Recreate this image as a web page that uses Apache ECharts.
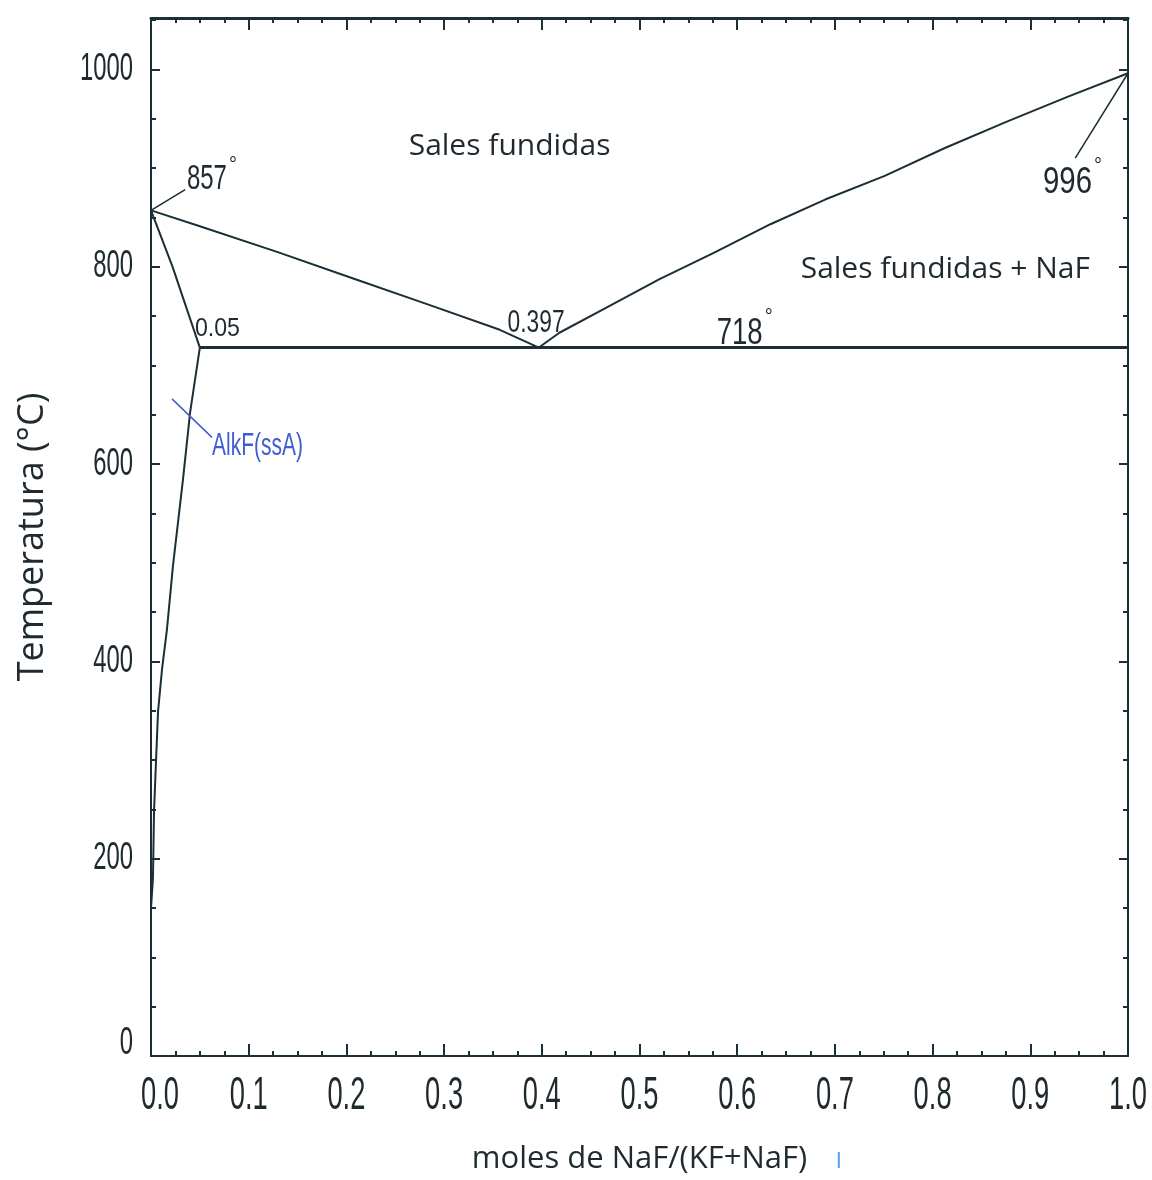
<!DOCTYPE html>
<html>
<head>
<meta charset="utf-8">
<script src="https://cdn.jsdelivr.net/npm/echarts@6/dist/echarts.min.js"></script>
<style>
html,body{margin:0;padding:0;background:#fff;}
#chart{width:1152px;height:1180px;}
</style>
</head>
<body>
<div id="chart"></div>
<script>
// ---- data ----
const liquidusLeft = [[0,857],[0.050,841],[0.129,815],[0.207,788],[0.2825,762],[0.357,736],[0.397,718]];
const liquidusRight = [[0.397,718],[0.418,733],[0.469,760],[0.520,787],[0.576,814],[0.634,843],[0.690,868],[0.751,892],[0.812,920],[0.876,947],[0.938,972],[1.0,996]];
const eutectic = [[0.05,718],[1.0,718]];
const solidus = [[0,857],[0.022,800],[0.05,718]];
const solvus = [[0.05,718],[0.040,652],[0.0328,585],[0.0225,497],[0.0164,433],[0.0113,392],[0.0072,349],[0.0051,298],[0.0031,248],[0.002,180],[0,150]];
const leader857 = [[0,857],[0.035,878]];
const leader996 = [[1.0,996],[0.946,910]];
const leaderAlkF = [[0.0215,666],[0.0624,627]];
const xTickValues = [0,0.1,0.2,0.3,0.4,0.5,0.6,0.7,0.8,0.9,1.0];
const xTickLabels = ['0.0','0.1','0.2','0.3','0.4','0.5','0.6','0.7','0.8','0.9','1.0'];
const yTickValues = [0,200,400,600,800,1000];
const yTickLabels = ['0','200','400','600','800','1000'];
// annotation texts and their anchor points in data units
const annotations = [
  {text:'Sales fundidas', x:0.367, y:921.5, kind:'region', align:'center'},
  {text:'Sales fundidas + NaF', x:0.813, y:797, kind:'region', align:'center'},
  {text:'857', x:0.0368, y:888, kind:'num', align:'left', deg:true, w:40, h:25},
  {text:'996', x:0.913, y:885, kind:'num', align:'left', deg:true, w:49, h:27},
  {text:'718', x:0.579, y:732, kind:'num', align:'left', deg:true, w:46, h:27},
  {text:'0.397', x:0.365, y:742.5, kind:'num', align:'left', w:57, h:22},
  {text:'0.05', x:0.045, y:737.4, kind:'num', align:'left', w:45, h:19},
  {text:'AlkF(ssA)', x:0.0624, y:618, kind:'blue', align:'left', w:91, h:23}
];

const INK = '#1c2e36';
const TXT = '#1f2a30';
const BLUE = '#3f5fd0';
const NUMFONT = "'Liberation Sans', Arial, sans-serif";
const SANS = "'Open Sans', 'Noto Sans', sans-serif";

const chart = echarts.init(document.getElementById('chart'));

function lineSeries(name, data, color, width) {
  return {
    name: name, type: 'line', data: data, showSymbol: false, symbol: 'none',
    lineStyle: {color: color || INK, width: width || 2}, silent: true, z: 3,
    xAxisIndex: 0, yAxisIndex: 0, animation: false
  };
}

const xBase = {
  type: 'value', min: 0, max: 1.0, interval: 0.1,
  splitLine: {show: false},
  axisLabel: {show: false},
  axisLine: {show: true, onZero: false, lineStyle: {color: INK, width: 2}},
  axisTick: {show: true, inside: true, length: 12, lineStyle: {color: INK, width: 2}, customValues: xTickValues},
  minorTick: {show: true, splitNumber: 4, length: 5, lineStyle: {color: INK, width: 2}},
  minorSplitLine: {show: false}
};
const yBase = {
  type: 'value', min: 0, max: 1052, interval: 200,
  splitLine: {show: false},
  axisLabel: {show: false},
  axisLine: {show: true, onZero: false, lineStyle: {color: INK, width: 2}},
  axisTick: {show: true, inside: true, length: 9, lineStyle: {color: INK, width: 2}, customValues: yTickValues},
  minorTick: {show: true, splitNumber: 4, length: 5, lineStyle: {color: INK, width: 2}},
  minorSplitLine: {show: false}
};

const option = {
  animation: false,
  backgroundColor: '#ffffff',
  grid: {left: 151, right: 24, top: 18, bottom: 122, containLabel: false},
  xAxis: [
    Object.assign({}, xBase, {
      position: 'bottom',
      name: 'moles de NaF/(KF+NaF)', nameLocation: 'middle', nameGap: 88,
      nameTextStyle: {fontFamily: SANS, fontSize: 31, color: TXT}
    }),
    Object.assign({}, xBase, {
      position: 'top',
      name: '',
      axisLine: {show: true, onZero: false, lineStyle: {color: INK, width: 3}}
    })
  ],
  yAxis: [
    Object.assign({}, yBase, {
      position: 'left',
      name: 'Temperatura (°C)', nameLocation: 'middle', nameGap: 100, nameRotate: 90,
      nameTextStyle: {fontFamily: SANS, fontSize: 36, color: TXT}
    }),
    Object.assign({}, yBase, {position: 'right', name: ''})
  ],
  series: [
    lineSeries('liquidusLeft', liquidusLeft),
    lineSeries('liquidusRight', liquidusRight),
    lineSeries('eutectic', eutectic, INK, 3),
    lineSeries('solidus', solidus),
    lineSeries('solvus', solvus),
    lineSeries('leader857', leader857, INK, 1.5),
    lineSeries('leader996', leader996, INK, 1.5),
    lineSeries('leaderAlkF', leaderAlkF, BLUE, 1.5)
  ]
};
chart.setOption(option);

// ---- text measuring for condensed (tall, narrow) labels ----
const mctx = document.createElement('canvas').getContext('2d');
function measure(text, size, family) {
  mctx.font = size + 'px ' + family;
  return mctx.measureText(text).width;
}
const CAP = 0.716; // cap height ratio of Liberation Sans
function condensedText(text, px, py, align, w, h, color, family) {
  const size = h / CAP;
  const sx = w / measure(text, size, family);
  return {
    type: 'text', x: px, y: py, scaleX: sx, scaleY: 1, silent: true, z: 10,
    style: {text: text, fontFamily: family, fontSize: size, fill: color,
      textAlign: align, textVerticalAlign: 'middle', align: align, verticalAlign: 'middle'}
  };
}
const toPx = function (x, y) { return chart.convertToPixel({xAxisIndex: 0, yAxisIndex: 0}, [x, y]); };

const elements = [];
// x tick labels
const xSize = 33 / CAP;
const xScale = 38 / measure('0.0', xSize, NUMFONT);
xTickValues.forEach(function (v, i) {
  const p = toPx(v, 0);
  const shift = (i === 0) ? 9 : 0;
  elements.push({
    type: 'text', x: p[0] + shift, y: p[1] + 40, scaleX: xScale, silent: true, z: 10,
    style: {text: xTickLabels[i], fontFamily: NUMFONT, fontSize: xSize, fill: TXT,
      textAlign: 'center', textVerticalAlign: 'middle', align: 'center', verticalAlign: 'middle'}
  });
});
// y tick labels
const ySize = 28 / CAP;
const yScale = 53 / measure('1000', ySize, NUMFONT);
yTickValues.forEach(function (v, i) {
  const p = toPx(0, v);
  const lift = (i === 0) ? -13 : 0;
  elements.push({
    type: 'text', x: p[0] - 18, y: p[1] + lift, scaleX: yScale, silent: true, z: 10,
    style: {text: yTickLabels[i], fontFamily: NUMFONT, fontSize: ySize, fill: TXT,
      textAlign: 'right', textVerticalAlign: 'middle', align: 'right', verticalAlign: 'middle'}
  });
});
// annotations
annotations.forEach(function (a) {
  const p = toPx(a.x, a.y);
  if (a.kind === 'region') {
    elements.push({
      type: 'text', x: p[0], y: p[1], silent: true, z: 10,
      style: {text: a.text, fontFamily: SANS, fontSize: 30, fill: TXT,
        textAlign: 'center', textVerticalAlign: 'middle', align: 'center', verticalAlign: 'middle'}
    });
    return;
  }
  const color = a.kind === 'blue' ? BLUE : TXT;
  elements.push(condensedText(a.text, p[0], p[1], 'left', a.w, a.h, color, NUMFONT));
  if (a.deg) {
    elements.push({
      type: 'text', x: p[0] + a.w + 6, y: p[1] - a.h * 0.75 + 4, silent: true, z: 10,
      style: {text: '°', fontFamily: NUMFONT, fontSize: 20, fill: TXT,
        textAlign: 'center', textVerticalAlign: 'middle', align: 'center', verticalAlign: 'middle'}
    });
  }
});
// small blue mark next to the x-axis title
const bp = toPx(0.704, 0);
elements.push({
  type: 'line', silent: true, z: 10,
  shape: {x1: bp[0], y1: 1152, x2: bp[0], y2: 1168},
  style: {stroke: '#5aa0e0', lineWidth: 2}
});
chart.setOption({graphic: {elements: elements}});
</script>
</body>
</html>
